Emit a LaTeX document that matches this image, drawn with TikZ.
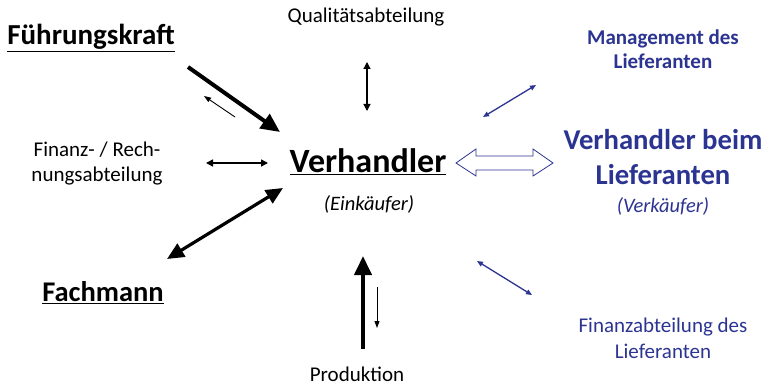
\documentclass[tikz,border=0pt]{standalone}
\usepackage{fontspec}
\setmainfont{Carlito}
\usetikzlibrary{arrows.meta}
\definecolor{supblue}{RGB}{44,52,146}
\begin{document}
\begin{tikzpicture}[x=1pt,y=-1pt,
  lbl/.style={inner sep=0pt,align=center},
  thickarr/.style={line width=4pt,-{Triangle[length=19pt,width=17pt]}},
  thickdbl/.style={line width=3.2pt,{Triangle[length=17pt,width=15pt]}-{Triangle[length=17pt,width=15pt]}},
  thinarr/.style={line width=0.9pt,-{Triangle[length=7pt,width=5pt]}},
  meddbl/.style={line width=1.5pt,{Triangle[length=7pt,width=7pt]}-{Triangle[length=7pt,width=7pt]}},
  bluedbl/.style={supblue,line width=1.3pt,{Triangle[length=6pt,width=5pt]}-{Triangle[length=6pt,width=5pt]}}]
\useasboundingbox (0,0) rectangle (766,385);
\fill[white] (0,0) rectangle (766,385);

% labels
\node[lbl,font=\fontsize{29}{34}\selectfont\bfseries] (fk) at (91,38) {\underline{Führungskraft}};
\node[lbl,font=\fontsize{21}{24}\selectfont] (qa) at (366,17) {Qualitätsabteilung};
\node[lbl,font=\fontsize{21}{24}\selectfont\bfseries,text=supblue] (mgmt) at (663,49) {Management des\\Lieferanten};
\node[lbl,font=\fontsize{21}{25}\selectfont] (fin) at (97,164) {Finanz- / Rech-\\nungsabteilung};
\node[lbl,font=\fontsize{34}{40}\selectfont\bfseries] (vh) at (368,162) {\underline{Verhandler}};
\node[lbl,font=\fontsize{20.5}{24}\selectfont\itshape] (ek) at (369,204) {(Einkäufer)};
\node[lbl,font=\fontsize{28.7}{35}\selectfont\bfseries,text=supblue] (vhl) at (663,157) {Verhandler beim\\Lieferanten};
\node[lbl,font=\fontsize{20.5}{24}\selectfont\itshape,text=supblue] (vk) at (663,206) {(Verkäufer)};
\node[lbl,font=\fontsize{28.5}{34}\selectfont\bfseries] (fm) at (103,293) {\underline{Fachmann}};
\node[lbl,font=\fontsize{21}{26}\selectfont,text=supblue] (finl) at (663,338) {Finanzabteilung des\\Lieferanten};
\node[lbl,font=\fontsize{21}{24}\selectfont] (prod) at (357,374) {Produktion};

% arrow endpoints
\coordinate (fkA) at (188,67);
\coordinate (fkB) at (280,132);
\coordinate (fkC) at (235,117);
\coordinate (fkD) at (204,96);
\coordinate (qaA) at (367,62);
\coordinate (qaB) at (367,111);
\coordinate (finA) at (206,163);
\coordinate (finB) at (268,163);
\coordinate (fmA) at (167,259);
\coordinate (fmB) at (283,188);
\coordinate (prA) at (363,349);
\coordinate (prB) at (363,256);
\coordinate (prC) at (377,287);
\coordinate (prD) at (377,328);
\coordinate (mgA) at (483,117);
\coordinate (mgB) at (536,85);
\coordinate (flA) at (477,261);
\coordinate (flB) at (532,295);

% connectors
\draw[thickarr] (fkA) -- (fkB);
\draw[thinarr] (fkC) -- (fkD);
\draw[meddbl,line width=1.2pt] (qaA) -- (qaB);
\draw[meddbl] (finA) -- (finB);
\draw[thickdbl] (fmA) -- (fmB);
\draw[thickarr] (prA) -- (prB);
\draw[thinarr] (prC) -- (prD);
\draw[bluedbl] (mgA) -- (mgB);
\draw[bluedbl] (flA) -- (flB);

% open double arrow
\draw[supblue,line width=0.8pt,fill=white,line join=miter]
  (456,163) -- (476,149) -- (476,156) -- (533,156) -- (533,149) -- (553,163)
  -- (533,176) -- (533,170) -- (476,170) -- (476,176) -- cycle;
\end{tikzpicture}
\end{document}
